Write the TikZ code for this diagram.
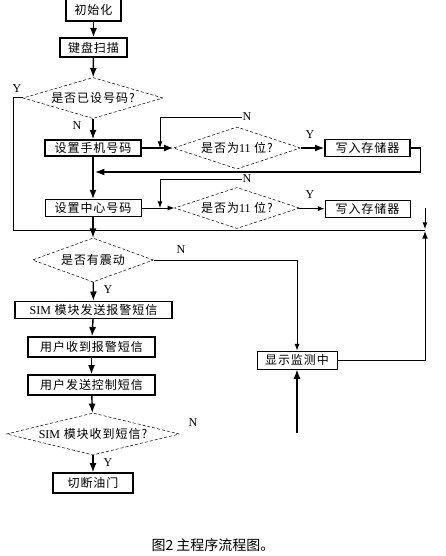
\documentclass[tikz,border=0pt]{standalone}
\usepackage{fontspec}
\setmainfont{Liberation Serif}
\newfontfamily\cjk[LetterSpace=8]{Noto Sans CJK SC}
\newfontfamily\capfont{Noto Sans CJK SC}
\usetikzlibrary{arrows.meta,shapes.geometric}

\begin{document}
\begin{tikzpicture}[>=Latex,x=1pt,y=-1pt,
  box/.style={draw,line width=1.4pt,inner sep=0pt,font=\cjk\fontsize{12}{12}\selectfont},
  thinbox/.style={box,line width=0.9pt},
  dia/.style={draw,diamond,dash pattern=on 3pt off 2pt,line width=0.5pt,inner sep=0pt,
    aspect=4,font=\cjk\fontsize{12}{12}\selectfont},
  lab/.style={font=\fontsize{12}{12}\selectfont,inner sep=0pt},
  flow/.style={->,line width=1.4pt},
  link/.style={->,line width=0.8pt}]
  \useasboundingbox (0,0) rectangle (445,556);

  % main column
  \node[box,minimum width=55pt,minimum height=23pt] (b0) at (93.5,9.5) {初始化};
  \node[box,minimum width=67pt,minimum height=19pt] (b1) at (93.5,47.5) {键盘扫描};
  \node[dia,minimum width=140pt,minimum height=41pt] (d1) at (93,98) {是否已设号码?};
  \node[box,minimum width=96pt,minimum height=16pt] (b2) at (93,148) {设置手机号码};
  \node[thinbox,minimum width=96pt,minimum height=17pt] (b4) at (93,208) {设置中心号码};
  \node[dia,minimum width=121pt,minimum height=44pt] (d4) at (93,260) {是否有震动};
  \node[box,minimum width=157pt,minimum height=17pt] (b6) at (93.5,310) {{\rmfamily SIM} 模块发送报警短信};
  \node[box,minimum width=127pt,minimum height=20pt] (b7) at (91.5,347) {用户收到报警短信};
  \node[box,minimum width=127pt,minimum height=20pt] (b8) at (91.5,385) {用户发送控制短信};
  \node[dia,minimum width=173pt,minimum height=42pt] (d5) at (93,434) {{\rmfamily SIM} 模块收到短信?};
  \node[box,minimum width=80pt,minimum height=20pt] (b9) at (93,483) {切断油门};

  % right side
  \node[dia,minimum width=127pt,minimum height=42pt] (d2) at (237,148) {是否为{\rmfamily 11} 位?};
  \node[box,minimum width=85pt,minimum height=17pt] (b3) at (367.5,148) {写入存储器};
  \node[dia,minimum width=125pt,minimum height=41pt] (d3) at (237,208) {是否为{\rmfamily 11} 位?};
  \node[thinbox,minimum width=85pt,minimum height=17pt] (b5) at (367.5,209) {写入存储器};
  \node[thinbox,minimum width=80pt,minimum height=18pt] (b10) at (297,360) {显示监测中};

  % labels
  \node[lab] (y1) at (17,89) {Y};
  \node[lab] (n1) at (77,126) {N};
  \node[lab] (n2) at (247,117) {N};
  \node[lab] (y2) at (310,135) {Y};
  \node[lab] (n3) at (247,179) {N};
  \node[lab] (y3) at (310,195) {Y};
  \node[lab] (n4) at (181,250) {N};
  \node[lab] (y4) at (108,290) {Y};
  \node[lab] (n5) at (193,423) {N};
  \node[lab] (y5) at (108,463) {Y};

  \coordinate (k2) at (160,148);
  \coordinate (k3) at (160,208);
  \coordinate (m1) at (95,172);
  \coordinate (rt) at (425,208);
  \coordinate (rj) at (425,229);
  \coordinate (rj2) at (425,231);
  \coordinate (ft) at (297,433);

  \draw[flow] (b0) -- (b1);
  \draw[flow] (b1) -- (d1);
  \draw[flow] (d1) -- (b2);
  \draw[line width=1pt] (d1.west) -- (13,98) -- (13,230) -- (425,230);
  \draw[flow] (b2) -- (d2);
  \draw[link] (n2.west) -| (k2);
  \draw[flow] (d2) -- (b3);
  \draw[flow] (b3.east) -- ++(10,0) |- (m1);
  \draw[flow] (b2) -- (b4);
  \draw[link] (b4) -- (d3);
  \draw[link] (n3.west) -| (k3);
  \draw[link] (d3) -- (b5);
  \draw[flow] (b4) -- (d4);
  \draw[link] (rt) -- (rj);
  \draw[link,line width=1pt] (b10.east) -| (rj2);
  \draw[link] (d4.east) -| (b10.north);
  \draw[flow] (ft) -- (b10.south);
  \draw[flow] (d4) -- (b6);
  \draw[flow] (b6) -- (b7);
  \draw[flow] (b7) -- (b8);
  \draw[flow] (b8) -- (d5);
  \draw[flow] (d5) -- (b9);

  \node[font=\capfont\fontsize{14}{14}\selectfont] (cap) at (213,545) {图2 主程序流程图。};
\end{tikzpicture}
\end{document}
